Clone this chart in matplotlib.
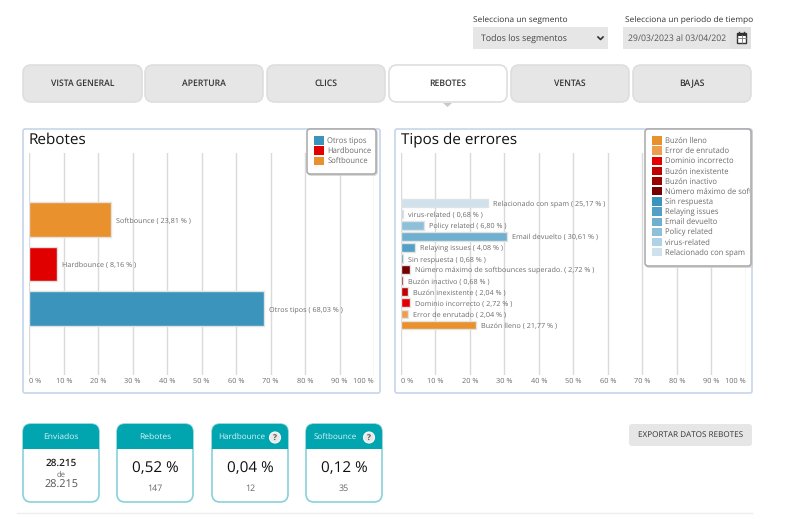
#!/usr/bin/env python3
import matplotlib
matplotlib.use('Agg')
import matplotlib.pyplot as plt
from matplotlib.patches import FancyBboxPatch, Rectangle, Circle, Polygon
from matplotlib.transforms import Bbox, TransformedBbox

plt.rcParams['font.family'] = ['Open Sans', 'DejaVu Sans']
plt.rcParams['text.hinting'] = 'no_hinting'

W, H = 785, 525

# Data
tabs = ['VISTA GENERAL', 'APERTURA', 'CLICS', 'REBOTES', 'VENTAS', 'BAJAS']
active_tab = 'REBOTES'

rebotes_names = ['Otros tipos', 'Hardbounce', 'Softbounce']
rebotes_values = [68.03, 8.16, 23.81]
rebotes_colors = ['#3A94BC', '#E00000', '#E8912D']

errores_names = ['Buzón lleno', 'Error de enrutado', 'Dominio incorrecto', 'Buzón inexistente',
                 'Buzón inactivo', 'Número máximo de softbounces superado.', 'Sin respuesta',
                 'Relaying issues', 'Email devuelto', 'Policy related', 'virus-related',
                 'Relacionado con spam']
errores_values = [21.77, 2.04, 2.72, 2.04, 0.68, 2.72, 0.68, 4.08, 30.61, 6.80, 0.68, 25.17]
errores_colors = ['#E8912D', '#EB9F4E', '#E40000', '#BE0000', '#990000', '#750000',
                  '#3A94BC', '#52A0C5', '#6FB0D0', '#8FC0D9', '#AFD3E4', '#CDE2EC']

xticks = list(range(0, 101, 10))

card_titles = ['Enviados', 'Rebotes', 'Hardbounce', 'Softbounce']
card_main = ['28.215', '0,52 %', '0,04 %', '0,12 %']
card_sub = ['28.215', '147', '12', '35']

GREY = '#6C6C6C'
DARK = '#333333'

fig = plt.figure(figsize=(W / 100, H / 100), dpi=100, facecolor='white')

# page layer in pixel coordinates
bg = fig.add_axes([0, 0, 1, 1])
bg.set_xlim(0, W); bg.set_ylim(H, 0); bg.axis('off')


def box(x0, y0, x1, y1, fc, ec='none', lw=1, r=2):
    p = FancyBboxPatch((x0, y0), x1 - x0, y1 - y0, boxstyle=f'round,pad=0,rounding_size={r}',
                       fc=fc, ec=ec, lw=lw)
    bg.add_patch(p)
    return p


def label(x, y, s, size=6.2, color=DARK, ha='center', **kw):
    return bg.text(x, y + 1, s, fontsize=size, color=color, ha=ha, va='center', **kw)


# selectors
label(473, 19, 'Selecciona un segmento', 6.0, ha='left')
label(625, 19, 'Selecciona un periodo de tiempo', 6.0, ha='left')
bg.add_patch(Rectangle((473, 27), 135, 22, fc='#E6E6E6'))
bg.add_patch(Rectangle((623, 27), 128, 22, fc='#E6E6E6'))
bg.add_patch(Rectangle((730, 27), 21, 22, fc='#E1E1E1'))
label(481, 38, 'Todos los segmentos', 6.3, ha='left', color='#444444')
label(628, 38, '29/03/2023 al 03/04/202', 6.2, ha='left', color='#555555')
bg.plot([598, 600.5, 603], [37, 39.5, 37], color='#333333', lw=1.2)
# calendar icon
bg.add_patch(Rectangle((737, 33), 9, 10, fc='white', ec='#333333', lw=1))
bg.add_patch(Rectangle((737, 33), 9, 2.5, fc='#333333'))
bg.plot([739, 739], [31.5, 34], color='#333333', lw=1)
bg.plot([744, 744], [31.5, 34], color='#333333', lw=1)
bg.plot([737, 746], [38, 38], color='#777777', lw=0.6)
bg.plot([741.5, 741.5], [35, 43], color='#777777', lw=0.6)

# tabs
tab_edges = [(23, 142), (145, 263), (267, 385), (389, 507), (511, 629), (633, 751)]
for name, (x0, x1) in zip(tabs, tab_edges):
    on = name == active_tab
    box(x0, 65, x1, 102, 'white' if on else '#E6E6E6', '#DEDEDE', 1.2, r=8)
    label((x0 + x1) / 2, 82.5, name, 6.2, weight='semibold')
bg.add_patch(Polygon([(443, 103), (452, 103), (447.5, 107)], fc='#C9C9C9'))

# chart frames
box(23, 129, 380, 393, 'white', '#C5D5EA', 1.2, r=2)
box(395, 129, 752, 393, 'white', '#C5D5EA', 1.2, r=2)
label(29, 139, 'Rebotes', 11, color='#111111', ha='left', weight='medium')
label(401, 139, 'Tipos de errores', 11, color='#111111', ha='left', weight='medium')


def chart(x0, x1, names, values, colors, ylim, height, legend_box):
    y0, y1 = 153, 375
    ax = fig.add_axes([x0 / W, 1 - y1 / H, (x1 - x0) / W, (y1 - y0) / H])
    ax.patch.set_alpha(0)
    ypos = list(range(len(names)))
    ax.barh(ypos, values, height=height, color=colors, edgecolor='#E2E2E2', linewidth=1, zorder=3)
    for y, n, v in zip(ypos, names, values):
        ax.annotate(f'{n} ( {v:.2f} % )'.replace(f'{v:.2f}', f'{v:.2f}'.replace('.', ',')),
                    (v, y), xytext=(3.6, -0.7), textcoords='offset points',
                    fontsize=5.2, color=GREY, va='center', zorder=4)
    ax.set_xlim(0, 100)
    ax.set_ylim(*ylim)
    ax.set_yticks([])
    ax.set_xticks(xticks)
    ax.set_xticklabels([f'{t} %' for t in xticks], fontsize=5.3, color=GREY)
    ax.get_xticklabels()[0].set_ha('left')
    ax.get_xticklabels()[-1].set_ha('right')
    ax.tick_params(axis='x', length=0, pad=2)
    ax.grid(axis='x', color='#DADADA', lw=1, zorder=0)
    ax.set_axisbelow(True)
    for s in ax.spines.values():
        s.set_visible(False)

    # legend box has a fixed size, text that is too long gets cut by it
    lx0, ly0, lx1, ly1 = legend_box
    for off, ec in ((1, '#CFCFCF'), (0, '#A8A8A8')):
        p = FancyBboxPatch((lx0 + off, ly0 + off), lx1 - lx0, ly1 - ly0,
                           boxstyle='round,pad=0,rounding_size=3', fc='white', ec=ec, lw=1.1,
                           transform=bg.transData, clip_on=False, zorder=4.5)
        ax.add_patch(p)
    handles = [Rectangle((0, 0), 1, 1, fc=c) for c in colors]
    leg = ax.legend(handles, names, loc='upper left',
                    bbox_to_anchor=(lx0 / W, 1 - ly0 / H),
                    bbox_transform=fig.transFigure, fontsize=5.5, frameon=False,
                    handlelength=1.32, handleheight=1.3, handletextpad=0.38, labelspacing=0.2,
                    borderpad=0.95, borderaxespad=0, labelcolor=GREY)
    leg.set_zorder(5)
    clip = TransformedBbox(Bbox([[lx0, ly0], [lx1 - 1, ly1]]), bg.transData)
    for t in leg.get_texts():
        t.set_clip_box(clip)
        t.set_clip_on(True)
    return ax


chart(29.3, 374, rebotes_names, rebotes_values, rebotes_colors, (-1.5, 3.5), 0.78,
      (307, 129, 376, 174))
chart(401, 745.7, errores_names, errores_values, errores_colors, (-4.5, 15.5), 0.8,
      (645, 129, 751, 266))

# cards
card_edges = [(23, 99), (117, 193), (212, 288), (306, 382)]
for i, (title, main, sub, (x0, x1)) in enumerate(zip(card_titles, card_main, card_sub, card_edges)):
    outer = box(x0, 424, x1, 502, 'white', '#86D2D8', 1.2, r=8)
    head = Rectangle((x0, 424), x1 - x0, 25, fc='#00A5B0')
    bg.add_patch(head)
    head.set_clip_path(outer)
    xc = (x0 + x1) / 2
    if i >= 2:
        label(xc - 8.5, 436, title, 5.9, color='#D9F3F5')
        bg.add_patch(Circle((x1 - 13, 437.5), 5.5, fc='#E8E8E8', ec='white', lw=0.8))
        label(x1 - 13, 436.5, '?', 6, color='#555555', weight='bold')
    else:
        label(xc, 436, title, 6.1, color='#D9F3F5')
    if i == 0:
        label(xc, 462, main, 7.2, color='#222222', weight='semibold')
        label(xc, 474, 'de', 5.5, color=GREY)
        label(xc, 484, sub, 7.8, color='#555555')
    else:
        label(xc, 467.5, main, 11, color='#111111')
        label(xc, 488, sub, 6.4, color='#666666')

# export button
box(629, 424, 752, 446, '#E6E6E6', r=3)
label(690.5, 434, 'EXPORTAR DATOS REBOTES', 5.9, color='#333333', weight='medium')
bg.plot([17, 752], [513, 513], color='#EEEEEE', lw=1)

fig.savefig('out.png', dpi=100)
